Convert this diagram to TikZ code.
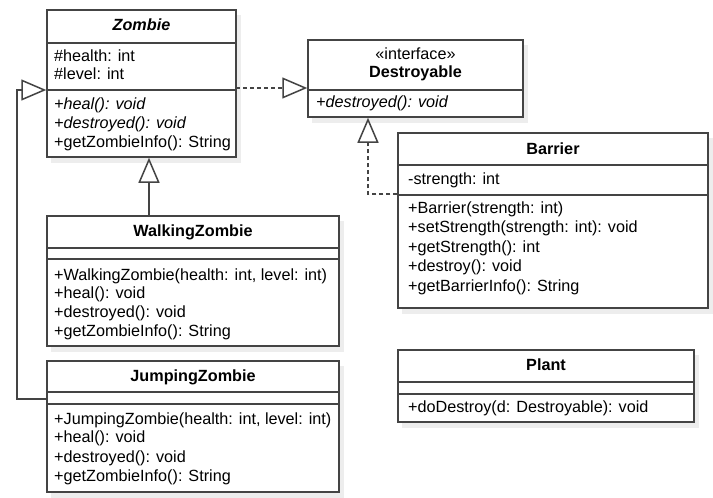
\documentclass[tikz,border=0pt]{standalone}
\usepackage{fontspec}
\setmainfont{Liberation Sans}
\usetikzlibrary{arrows.meta,calc}
\definecolor{edge}{HTML}{444444}
\definecolor{shade}{HTML}{EDEDED}
\tikzset{
  cls/.style={draw=edge, line width=1.5pt, fill=white, inner sep=0pt},
  shadowbox/.style={fill=shade, draw=none},
  sepline/.style={draw=edge, line width=1.5pt},
  txt/.style={anchor=west, inner sep=0pt, text height=11.5pt, text depth=3.5pt, font=\fontsize{16.2}{18}\selectfont},
  ttl/.style={anchor=center, inner sep=0pt, text height=11.5pt, text depth=3.5pt, font=\fontsize{16.2}{18}\selectfont\bfseries},
  conn/.style={draw=edge, line width=1.5pt},
  dotconn/.style={conn, dash pattern=on 4pt off 3pt},
  inh/.style={-{Triangle[length=25pt,width=21pt,fill=white,line width=1.5pt]}},
}
\newcommand{\umlbox}[5]{% name, x1, y1, x2, y2
  \fill[shadowbox] (#2+4,#3+5) rectangle (#4+5,#5+6);
  \node[cls, minimum width=#4-#2, minimum height=#5-#3] (#1) at ({(#2+#4)/2},{(#3+#5)/2}) {};
}
\begin{document}
\begin{tikzpicture}[x=1pt,y=-1pt]
\useasboundingbox (0,0) rectangle (713,498);
\fill[white] (0,0) rectangle (713,498);

% Zombie
\umlbox{zombie}{47}{10}{236}{157}
\node[ttl, font=\fontsize{16.2}{18}\selectfont\bfseries\itshape] (zt) at (141.5,26) {Zombie};
\draw[sepline] (47,43) -- (236,43);
\draw[sepline] (47,90) -- (236,90);
\node[txt] (z1) at (54,57) {\#health: int};
\node[txt] (z2) at (54,75) {\#level: int};
\node[txt, font=\fontsize{16.2}{18}\selectfont\itshape] (z3) at (54,105) {+heal(): void};
\node[txt, font=\fontsize{16.2}{18}\selectfont\itshape] (z4) at (54,124) {+destroyed(): void};
\node[txt] (z5) at (54,143) {+getZombieInfo(): String};

% Destroyable
\umlbox{destr}{308}{40}{523}{117}
\node[ttl, font=\fontsize{16.2}{18}\selectfont] (ds) at (415.5,55) {«interface»};
\node[ttl] (dt) at (415.5,73) {Destroyable};
\draw[sepline] (308,90) -- (523,90);
\node[txt, font=\fontsize{16.2}{18}\selectfont\itshape] (d1) at (316,103) {+destroyed(): void};

% Barrier
\umlbox{barrier}{398}{133}{708}{308}
\node[ttl] (bt) at (553,150) {Barrier};
\draw[sepline] (398,165) -- (708,165);
\draw[sepline] (398,195) -- (708,195);
\node[txt] (b0) at (408,180) {-strength: int};
\node[txt] (b1) at (408,209) {+Barrier(strength: int)};
\node[txt] (b2) at (408,228) {+setStrength(strength: int): void};
\node[txt] (b3) at (408,248) {+getStrength(): int};
\node[txt] (b4) at (408,267) {+destroy(): void};
\node[txt] (b5) at (408,287) {+getBarrierInfo(): String};

% WalkingZombie
\umlbox{walking}{47}{216}{339}{346}
\node[ttl] (wt) at (193,232) {WalkingZombie};
\draw[sepline] (47,248) -- (339,248);
\draw[sepline] (47,259) -- (339,259);
\node[txt] (w1) at (54,276) {+WalkingZombie(health: int, level: int)};
\node[txt] (w2) at (54,294) {+heal(): void};
\node[txt] (w3) at (54,313) {+destroyed(): void};
\node[txt] (w4) at (54,332) {+getZombieInfo(): String};

% JumpingZombie
\umlbox{jumping}{47}{361}{339}{492}
\node[ttl] (jt) at (193,377) {JumpingZombie};
\draw[sepline] (47,392) -- (339,392);
\draw[sepline] (47,404) -- (339,404);
\node[txt] (j1) at (54,420) {+JumpingZombie(health: int, level: int)};
\node[txt] (j2) at (54,438) {+heal(): void};
\node[txt] (j3) at (54,458) {+destroyed(): void};
\node[txt] (j4) at (54,477) {+getZombieInfo(): String};

% Plant
\umlbox{plant}{398}{350}{694}{422}
\node[ttl] (pt) at (546,366) {Plant};
\draw[sepline] (398,382) -- (694,382);
\draw[sepline] (398,394) -- (694,394);
\node[txt] (p1) at (408,408) {+doDestroy(d: Destroyable): void};

% connectors
\coordinate (zr) at (236,88);
\coordinate (jbend1) at (17,399);
\coordinate (jbend2) at (17,90);
\coordinate (bbend) at (368,194);

\draw[dotconn, inh] (zr) -- (zr -| destr.west);
\draw[conn, inh] (walking.north -| 149,0) -- (zombie.south -| 149,0);
\draw[conn, inh] (jumping.west |- jbend1) -- (jbend1) -- (jbend2) -- (jbend2 -| zombie.west);
\draw[dotconn, inh] (bbend -| barrier.west) -- (bbend) -- (bbend |- destr.south);
\end{tikzpicture}
\end{document}
